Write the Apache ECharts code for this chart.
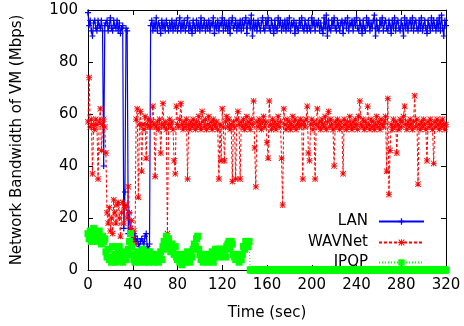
<!DOCTYPE html>
<html>
<head>
<meta charset="utf-8">
<script src="https://cdn.jsdelivr.net/npm/echarts@6/dist/echarts.min.js"></script>
<style>
html,body{margin:0;padding:0;background:#fff;}
#c{width:464px;height:326px;}
</style>
</head>
<body>
<div id="c"></div>
<script>
// LAN bandwidth, one sample per second, t = 0..320
const lanValues = [
  99,94,96,92,90,95,96,93,92,96,94,93,96,92,
  40,94,
  95,96,92,94,97,93,92,96,94,93,96,92,95,91,93,94,
  16,30,93,92,14,
  22,16,13,12,14,13,11,12,10,9,11,12,11,10,13,14,9,8,10,
  94,
  96,92,95,93,97,92,95,94,91,96,93,95,92,96,94,92,95,93,96,92,
  95,93,96,92,94,97,92,95,93,96,92,94,97,92,95,93,91,96,94,92,
  96,93,95,92,97,93,94,96,92,95,93,96,92,95,94,97,91,95,93,96,
  92,95,94,97,92,96,93,95,92,96,91,95,97,93,94,96,92,95,93,96,
  92,96,93,95,97,91,95,96,93,98,90,96,93,95,92,96,94,92,95,97,
  93,92,96,94,97,93,92,96,94,91,96,93,92,97,94,96,92,95,93,96,
  92,96,93,97,92,95,94,96,91,95,93,92,96,94,97,93,92,96,94,92,
  96,93,92,97,94,96,92,95,94,96,92,95,93,91,97,93,98,90,96,93,
  92,96,94,97,93,92,96,94,92,95,96,91,95,96,93,97,92,95,94,96,
  92,96,94,97,93,92,96,94,91,96,93,92,97,94,96,92,95,93,96,98,
  90,96,93,92,96,94,97,92,95,96,93,92,96,94,91,96,93,97,92,95,
  96,93,92,96,94,90,97,93,96,92,95,96,93,97,92,95,96,93,92,96,
  93,97,92,94,96,93,91,96,94,92,97,93,96,94,92,96,93,97,92,98,
  93,90,96,94
];

// WAVNet bandwidth, t = 0..320
const wavnetValues = [
  57,74,55,58,37,56,54,58,56,35,57,62,46,56,58,55,
  45,22,18,24,15,20,14,27,22,18,25,26,20,13,22,26,18,24,25,20,32,22,16,19,12,15,10,
  58,62,28,56,61,38,56,54,59,43,56,58,55,
  55,57,63,56,36,55,57,54,58,45,56,64,55,57,54,14,56,58,55,57,
  54,42,37,63,56,55,58,64,56,54,57,55,58,35,56,54,57,55,58,56,
  54,57,55,59,56,54,61,57,55,58,54,56,59,55,57,54,58,56,55,57,
  54,35,56,42,62,55,42,57,59,55,58,54,56,34,57,55,35,58,61,56,
  35,57,55,58,54,56,59,55,57,54,58,56,65,47,32,57,55,58,56,54,
  57,59,55,57,49,43,65,56,54,58,55,57,54,56,59,55,57,43,25,62,
  56,54,58,55,57,54,56,59,55,58,54,56,57,55,58,56,35,57,55,58,
  63,45,42,56,58,54,57,35,56,62,55,57,54,58,56,55,59,54,57,61,
  55,58,56,54,40,57,55,58,56,54,57,55,37,58,56,54,57,55,59,56,
  54,57,55,58,56,54,59,65,56,55,58,54,57,55,63,56,54,58,55,57,
  54,56,59,55,57,54,58,56,55,57,59,38,66,29,46,56,54,58,55,57,
  45,56,54,58,55,57,59,63,56,54,57,55,58,56,54,57,67,55,58,33,
  56,54,57,55,58,56,54,42,57,55,58,56,54,41,57,55,58,56,54,57,
  55,58,56,54,56
];

// IPOP bandwidth, t = 0..320
const ipopValues = [
  14,12,15,11,13,16,12,14,11,13,15,12,10,13,11,12,7,5,8,4,
  5,3,9,4,6,3,5,8,9,4,6,3,5,7,4,6,8,11,14,9,
  6,4,3,5,7,4,3,6,5,8,4,3,5,6,3,7,5,4,6,3,
  5,4,6,3,5,7,4,9,11,8,13,10,12,9,7,10,8,6,9,5,
  4,6,3,5,2,4,6,3,5,7,4,3,6,5,8,10,9,12,13,8,
  6,4,5,3,6,4,5,3,6,4,5,7,3,5,8,6,7,8,5,8,
  6,8,7,5,9,10,11,8,11,10,6,5,4,6,5,3,5,4,6,9,
  8,11,10,9,11,
  0,0,0,0,0,0,0,0,0,0,0,0,0,0,0,0,0,0,0,0,0,0,0,0,0,
  0,0,0,0,0,0,0,0,0,0,0,0,0,0,0,0,0,0,0,0,0,0,0,0,0,
  0,0,0,0,0,0,0,0,0,0,0,0,0,0,0,0,0,0,0,0,0,0,0,0,0,
  0,0,0,0,0,0,0,0,0,0,0,0,0,0,0,0,0,0,0,0,0,0,0,0,0,
  0,0,0,0,0,0,0,0,0,0,0,0,0,0,0,0,0,0,0,0,0,0,0,0,0,
  0,0,0,0,0,0,0,0,0,0,0,0,0,0,0,0,0,0,0,0,0,0,0,0,0,
  0,0,0,0,0,0,0,0,0,0,0,0,0,0,0,0,0,0,0,0,0,0,0,0,0,
  0
];

const seriesNames = ['LAN', 'WAVNet', 'IPOP'];
const xTitle = 'Time (sec)';
const yTitle = 'Network Bandwidth of VM (Mbps)';

const toPairs = arr => arr.map((v, i) => [i, v]);

const FONT = 'DejaVu Sans';
const plusSym = 'path://M4,0H6V4H10V6H6V10H4V6H0V4H4Z';
const starSym = 'path://M4.3,0H5.7V10H4.3Z M0,4.3H10V5.7H0Z M1,0L10,9L9,10L0,1Z M9,0L10,1L1,10L0,9Z';

const chart = echarts.init(document.getElementById('c'), null, {renderer: 'canvas'});

const axisCommon = {
  axisLine: {show: true, onZero: false, lineStyle: {color: '#000', width: 1}},
  axisTick: {show: true, inside: true, length: 5, lineStyle: {color: '#000', width: 1}},
  splitLine: {show: false}
};

const legendCommon = {
  orient: 'vertical',
  align: 'right',
  padding: 0,
  itemWidth: 45,
  itemHeight: 8,
  textStyle: {fontFamily: FONT, fontSize: 15, color: '#000', padding: [0, 6, 0, 0]},
  right: 39
};

chart.setOption({
  animation: false,
  backgroundColor: '#fff',
  grid: {left: 88, right: 18, top: 10, bottom: 56},
  legend: [
    Object.assign({}, legendCommon, {data: [seriesNames[0]], top: 214}),
    Object.assign({}, legendCommon, {data: [seriesNames[1]], top: 235}),
    Object.assign({}, legendCommon, {data: [seriesNames[2]], top: 255})
  ],
  xAxis: [
    Object.assign({}, axisCommon, {
      type: 'value', min: 0, max: 320, interval: 40, position: 'bottom',
      name: xTitle, nameLocation: 'middle', nameGap: 36,
      nameTextStyle: {fontFamily: FONT, fontSize: 15, color: '#000'},
      axisLabel: {fontFamily: FONT, fontSize: 15, color: '#000', margin: 8}
    }),
    Object.assign({}, axisCommon, {
      type: 'value', min: 0, max: 320, interval: 40, position: 'top',
      axisLabel: {show: false}
    })
  ],
  yAxis: [
    Object.assign({}, axisCommon, {
      type: 'value', min: 0, max: 100, interval: 20, position: 'left',
      name: yTitle, nameLocation: 'middle', nameGap: 63, nameRotate: 90,
      nameTextStyle: {fontFamily: FONT, fontSize: 15, color: '#000'},
      axisLabel: {fontFamily: FONT, fontSize: 15, color: '#000', margin: 10}
    }),
    Object.assign({}, axisCommon, {
      type: 'value', min: 0, max: 100, interval: 20, position: 'right',
      axisLabel: {show: false}
    })
  ],
  series: [
    {
      name: seriesNames[0], type: 'line', data: toPairs(lanValues),
      xAxisIndex: 0, yAxisIndex: 0,
      symbol: plusSym, symbolSize: 6, showAllSymbol: true,
      lineStyle: {color: '#0000ff', width: 1.2, type: 'solid'},
      itemStyle: {color: '#0000ff'},
      emphasis: {disabled: true}
    },
    {
      name: seriesNames[1], type: 'line', data: toPairs(wavnetValues),
      xAxisIndex: 0, yAxisIndex: 0,
      symbol: starSym, symbolSize: 6, showAllSymbol: true,
      lineStyle: {color: '#ff0000', width: 1, type: [3, 2]},
      itemStyle: {color: '#ff0000'},
      emphasis: {disabled: true}
    },
    {
      name: seriesNames[2], type: 'line', data: toPairs(ipopValues),
      xAxisIndex: 0, yAxisIndex: 0,
      symbol: 'rect', symbolSize: 7, showAllSymbol: true,
      lineStyle: {color: '#00ff00', width: 1, type: [1, 2]},
      itemStyle: {color: '#00ff00'},
      emphasis: {disabled: true}
    }
  ]
});
</script>
</body>
</html>
